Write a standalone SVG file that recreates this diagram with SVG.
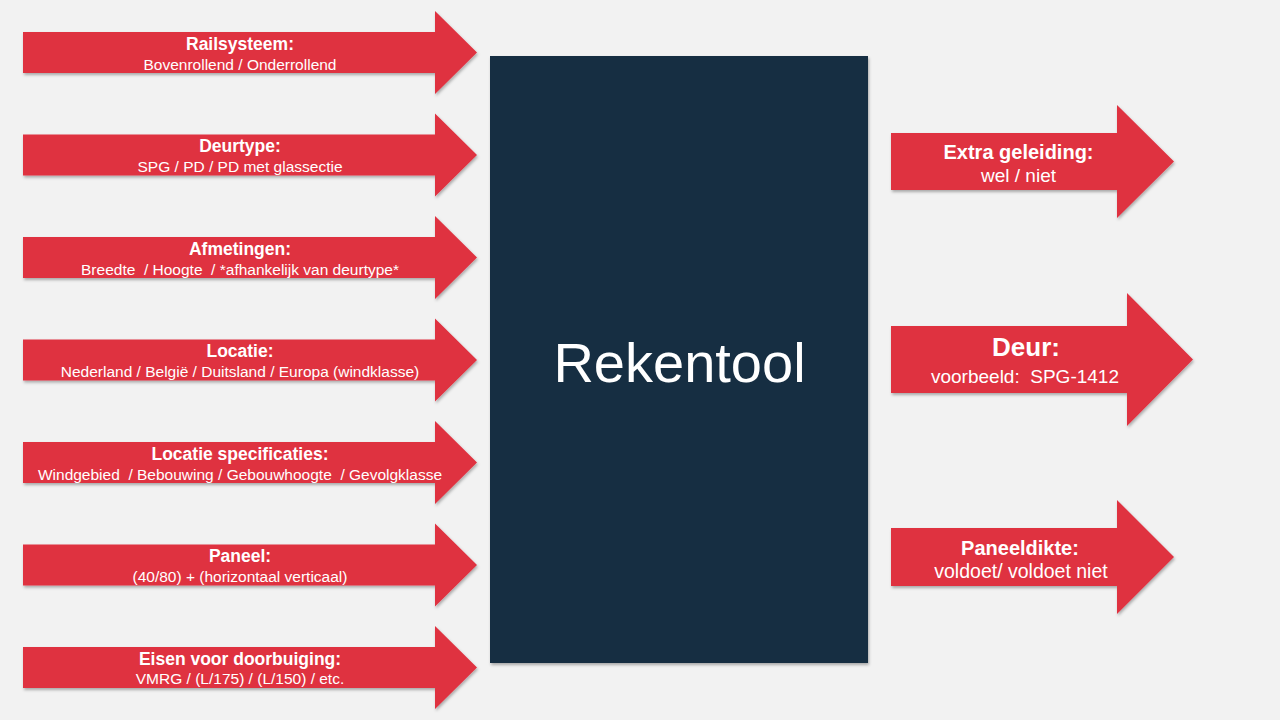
<svg xmlns="http://www.w3.org/2000/svg" width="1280" height="720" viewBox="0 0 1280 720">
  <defs>
    <filter id="sh" x="-10%" y="-10%" width="120%" height="130%">
      <feDropShadow dx="1" dy="2" stdDeviation="1.5" flood-color="#000" flood-opacity="0.3"/>
    </filter>
    <style>
      .arrow { fill: #DF3240; filter: url(#sh); }
      .box { fill: #142F43; filter: url(#sh); }
      text { font-family: "Liberation Sans", Arial, sans-serif; fill: #FFFFFF; text-anchor: middle; white-space: pre; }
      .t { font-weight: bold; font-size: 17.5px; }
      .s { font-size: 15.5px; }
      .rt { font-weight: bold; font-size: 20px; }
      .rs { font-size: 19px; }
      .big { font-size: 56px; }
    </style>
  </defs>
  <rect width="1280" height="720" fill="#F2F2F2"/>

  <g id="connectors"/>

  <g id="railsysteem">
    <polygon class="arrow" points="23,32 435,32 435,11 477,52.5 435,94 435,73 23,73"/>
    <text class="t" x="240" y="50">Railsysteem:</text>
    <text class="s" x="240" y="69.5">Bovenrollend / Onderrollend</text>
  </g>
  <g id="deurtype">
    <polygon class="arrow" points="23,134.5 435,134.5 435,113.5 477,155 435,196.5 435,175.5 23,175.5"/>
    <text class="t" x="240" y="152">Deurtype:</text>
    <text class="s" x="240" y="172">SPG / PD / PD met glassectie</text>
  </g>
  <g id="afmetingen">
    <polygon class="arrow" points="23,237 435,237 435,216 477,257.5 435,299 435,278 23,278"/>
    <text class="t" x="240" y="254.5">Afmetingen:</text>
    <text class="s" x="240" y="274.5">Breedte  / Hoogte  / *afhankelijk van deurtype*</text>
  </g>
  <g id="locatie">
    <polygon class="arrow" points="23,339.5 435,339.5 435,318.5 477,360 435,401.5 435,380.5 23,380.5"/>
    <text class="t" x="240" y="357">Locatie:</text>
    <text class="s" x="240" y="377">Nederland / België / Duitsland / Europa (windklasse)</text>
  </g>
  <g id="locatie-specificaties">
    <polygon class="arrow" points="23,442 435,442 435,421 477,462.5 435,504 435,483 23,483"/>
    <text class="t" x="240" y="459.5">Locatie specificaties:</text>
    <text class="s" x="240" y="479.5">Windgebied  / Bebouwing / Gebouwhoogte  / Gevolgklasse</text>
  </g>
  <g id="paneel">
    <polygon class="arrow" points="23,544.5 435,544.5 435,523.5 477,565 435,606.5 435,585.5 23,585.5"/>
    <text class="t" x="240" y="562">Paneel:</text>
    <text class="s" x="240" y="582">(40/80) + (horizontaal verticaal)</text>
  </g>
  <g id="eisen-doorbuiging">
    <polygon class="arrow" points="23,647 435,647 435,626 477,667.5 435,709 435,688 23,688"/>
    <text class="t" x="240" y="664.5">Eisen voor doorbuiging:</text>
    <text class="s" x="240" y="684">VMRG / (L/175) / (L/150) / etc.</text>
  </g>

  <g id="rekentool">
    <rect class="box" x="490" y="56" width="378" height="607"/>
    <text class="big" x="679.5" y="381.5">Rekentool</text>
  </g>

  <g id="extra-geleiding">
    <polygon class="arrow" points="891,133 1117,133 1117,105 1174,161.5 1117,218 1117,190 891,190"/>
    <text class="rt" x="1018.5" y="159">Extra geleiding:</text>
    <text class="rs" x="1018.5" y="182">wel / niet</text>
  </g>
  <g id="deur">
    <polygon class="arrow" points="891,326 1127,326 1127,293 1193,359.5 1127,426 1127,393 891,393"/>
    <text class="rt" x="1026" y="356" style="font-size:26px">Deur:</text>
    <text class="rs" x="1025" y="383">voorbeeld:  SPG-1412</text>
  </g>
  <g id="paneeldikte">
    <polygon class="arrow" points="891,528 1117,528 1117,500 1174,557 1117,614 1117,586 891,586"/>
    <text class="rt" x="1020" y="555">Paneeldikte:</text>
    <text class="rs" x="1021" y="578" style="font-size:19.5px">voldoet/ voldoet niet</text>
  </g>
</svg>
